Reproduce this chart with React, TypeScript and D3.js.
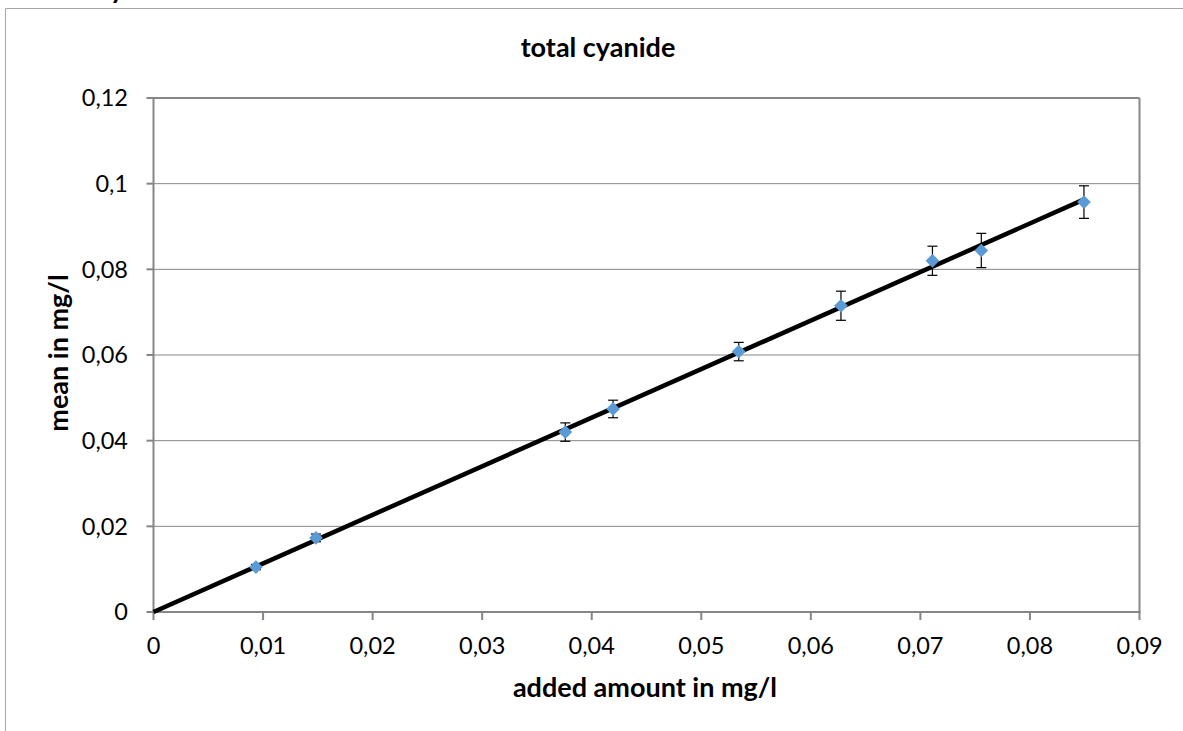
import React from "react";
import * as d3 from "d3";

const addedAmount = [0.00935, 0.01483, 0.03759, 0.04195, 0.05342, 0.06275, 0.0711, 0.07556, 0.08493];
const meanValue = [0.0105, 0.0173, 0.0420, 0.0474, 0.0608, 0.0715, 0.0820, 0.0844, 0.0957];
const errorValue = [0.0006, 0.0009, 0.00215, 0.00205, 0.00215, 0.0034, 0.0034, 0.0040, 0.0038];
const xTicks = [0, 0.01, 0.02, 0.03, 0.04, 0.05, 0.06, 0.07, 0.08, 0.09];
const yTicks = [0, 0.02, 0.04, 0.06, 0.08, 0.1, 0.12];
const trendSlope = 1.134;
const trendRange = [0, 0.085];

const W = 1183;
const H = 731;
const left = 153.5, right = 1139.5, top = 98, bottom = 612;
const FONT = "Lato, 'Open Sans', sans-serif";
const fmt = (v: number) => String(+v.toFixed(2)).replace(".", ",");

export default function App() {
  const x = d3.scaleLinear().domain([0, 0.09]).range([left, right]);
  const y = d3.scaleLinear().domain([0, 0.12]).range([bottom, top]);
  const trend = d3.line<number>().x((d) => x(d)).y((d) => y(trendSlope * d));
  const diamond = d3.symbol().type(d3.symbolDiamond2).size(120)();
  const gridColor = "#868686";

  return (
    <svg width={W} height={H} style={{ position: "absolute", left: 0, top: 0, display: "block", background: "#fff" }}>
      <rect x={0} y={0} width={W} height={H} fill="#fff" />
      <text x={117} y={-1} fontFamily={FONT} fontWeight="bold" fontSize={27} textAnchor="middle">y</text>
      {/* outer frame */}
      <path d={`M5.5,${H} V8.5 H${W}`} fill="none" stroke="#a6a6a6" strokeWidth={1} />
      {/* title */}
      <text x={598} y={57} textAnchor="middle" fontFamily={FONT} fontWeight="bold" fontSize={27}>total cyanide</text>
      {/* gridlines */}
      {yTicks.filter((t) => t > 0).map((t) => (
        <line key={t} x1={left} x2={right} y1={y(t)} y2={y(t)} stroke={gridColor} strokeWidth={1} />
      ))}
      {/* plot area borders */}
      <line x1={right} x2={right} y1={top} y2={bottom} stroke={gridColor} strokeWidth={2} />
      <line x1={left} x2={right} y1={top} y2={top} stroke={gridColor} strokeWidth={2} />
      <line x1={left} x2={left} y1={top - 1} y2={bottom} stroke={gridColor} strokeWidth={2} />
      <line x1={left} x2={right + 1} y1={bottom} y2={bottom} stroke={gridColor} strokeWidth={2} />
      {/* y ticks */}
      {yTicks.map((t) => (
        <g key={t}>
          <line x1={left - 7} x2={left} y1={y(t)} y2={y(t)} stroke={gridColor} strokeWidth={2} />
          <text x={128} y={y(t)} dy="0.35em" textAnchor="end" fontFamily={FONT} fontSize={23.5}>{fmt(t)}</text>
        </g>
      ))}
      {/* x ticks */}
      {xTicks.map((t) => (
        <g key={t}>
          <line x1={x(t)} x2={x(t)} y1={bottom} y2={bottom + 8} stroke={gridColor} strokeWidth={2} />
          <text x={x(t)} y={654} textAnchor="middle" fontFamily={FONT} fontSize={23.5}>{fmt(t)}</text>
        </g>
      ))}
      {/* axis titles */}
      <text x={645} y={697} textAnchor="middle" fontFamily={FONT} fontWeight="bold" fontSize={27}>added amount in mg/l</text>
      <text transform={`translate(68,353) rotate(-90)`} textAnchor="middle" fontFamily={FONT} fontWeight="bold" fontSize={27}>mean in mg/l</text>
      {/* error bars */}
      {addedAmount.map((a, i) => {
        const cx = x(a);
        const y1 = y(meanValue[i] + errorValue[i]);
        const y2 = y(meanValue[i] - errorValue[i]);
        return (
          <g key={i} stroke="#000" strokeWidth={1.2}>
            <line x1={cx} x2={cx} y1={y1} y2={y2} />
            <line x1={cx - 5} x2={cx + 5} y1={y1} y2={y1} />
            <line x1={cx - 5} x2={cx + 5} y1={y2} y2={y2} />
          </g>
        );
      })}
      {/* trendline */}
      <path d={trend(trendRange) || ""} fill="none" stroke="#000" strokeWidth={4.5} />
      {/* markers */}
      {addedAmount.map((a, i) => (
        <path key={i} d={diamond || ""} transform={`translate(${x(a)},${y(meanValue[i])})`} fill="#5B9BD5" />
      ))}
    </svg>
  );
}
